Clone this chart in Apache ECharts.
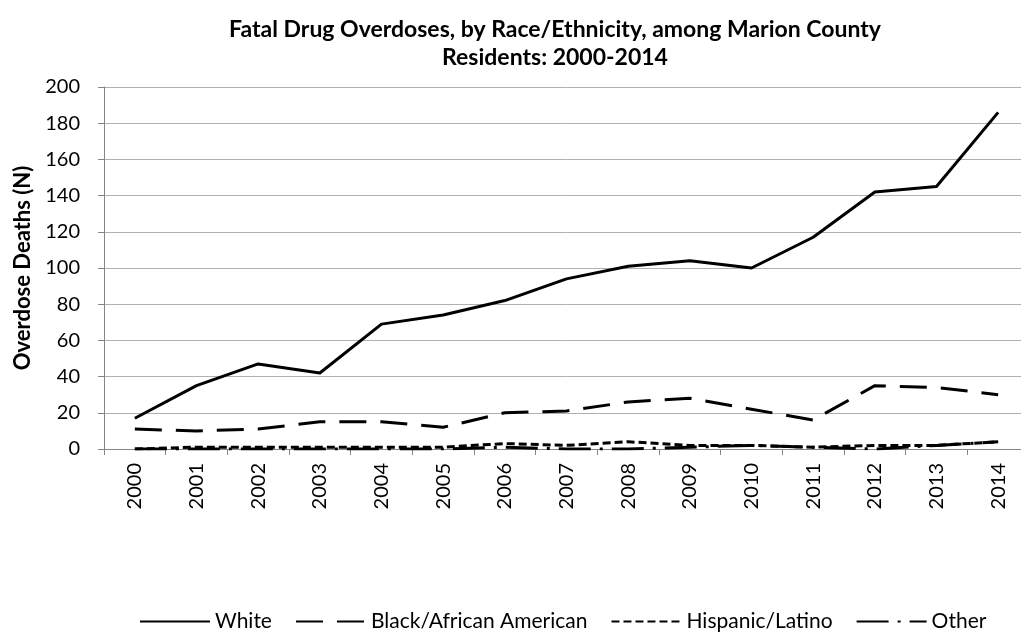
<!DOCTYPE html>
<html>
<head>
<meta charset="utf-8">
<script src="https://cdn.jsdelivr.net/npm/echarts@6/dist/echarts.min.js"></script>
<style>html,body{margin:0;padding:0;background:#fff;overflow:hidden;width:1021px;height:632px}#c{width:1040px;height:632px}</style>
</head>
<body>
<div id="c"></div>
<script>
const years = ['2000','2001','2002','2003','2004','2005','2006','2007','2008','2009','2010','2011','2012','2013','2014'];
const white = [17,35,47,42,69,74,82,94,101,104,100,117,142,145,186];
const black = [11,10,11,15,15,12,20,21,26,28,22,16,35,34,30];
const hispanic = [0,1,1,1,1,1,3,2,4,2,2,1,2,2,4];
const other = [0,0,0,0,0,0,1,0,0,1,2,1,0,2,4];
const yTicks = [0,20,40,60,80,100,120,140,160,180,200];
const titleLines = ['Fatal Drug Overdoses, by Race/Ethnicity, among Marion County', 'Residents: 2000-2014'];

const FONT = 'Lato';
const chart = echarts.init(document.getElementById('c'), null, {renderer:'canvas'});
function mk(name, data, type) {
  return {
    name, type:'line', data, showSymbol:false, symbol:'none', smooth:false,
    lineStyle:{color:'#000', width:3, type: type, cap:'butt', join:'round'},
    itemStyle:{color:'#000'},
    emphasis:{disabled:true}, animation:false
  };
}
chart.setOption({
  animation:false,
  graphic:[{
    type:'text', x:555, y:16, z:10,
    style:{text:titleLines.join('\n'), fontFamily:FONT, fontSize:23, fontWeight:'bold', fill:'#000', lineHeight:28, align:'center', textAlign:'center'}
  }],
  grid:{left:104, right:11, top:87, bottom:183, containLabel:false},
  legend:{
    top:606, left:134, itemWidth:70, itemHeight:14, itemGap:23,
    textStyle:{fontFamily:FONT, fontSize:21, color:'#000'},
    itemStyle:{opacity:0},
    data: ['White','Black/African American','Hispanic/Latino','Other'],
    selectedMode:false
  },
  xAxis:{
    type:'category', data:years, boundaryGap:true,
    axisLine:{lineStyle:{color:'#868686', width:1}},
    axisTick:{show:true, alignWithLabel:false, length:6, lineStyle:{color:'#868686'}},
    axisLabel:{rotate:90, fontFamily:FONT, fontSize:20, color:'#000', margin:14, interval:0}
  },
  yAxis:{
    type:'value', min:yTicks[0], max:yTicks[yTicks.length-1], interval:20,
    name:'Overdose Deaths (N)', nameLocation:'middle', nameGap:70, nameRotate:90,
    nameTextStyle:{fontFamily:FONT, fontSize:22, fontWeight:'bold', color:'#000'},
    axisLine:{show:true, lineStyle:{color:'#868686'}},
    axisTick:{show:true, length:6, lineStyle:{color:'#868686'}},
    splitLine:{lineStyle:{color:'#b0b0b0', width:1}},
    axisLabel:{fontFamily:FONT, fontSize:20, color:'#000', margin:24}
  },
  series:[
    mk('White', white, 'solid'),
    mk('Black/African American', black, [27,14]),
    mk('Hispanic/Latino', hispanic, [8,4]),
    mk('Other', other, [32,9,3,9])
  ]
});
</script>
</body>
</html>
